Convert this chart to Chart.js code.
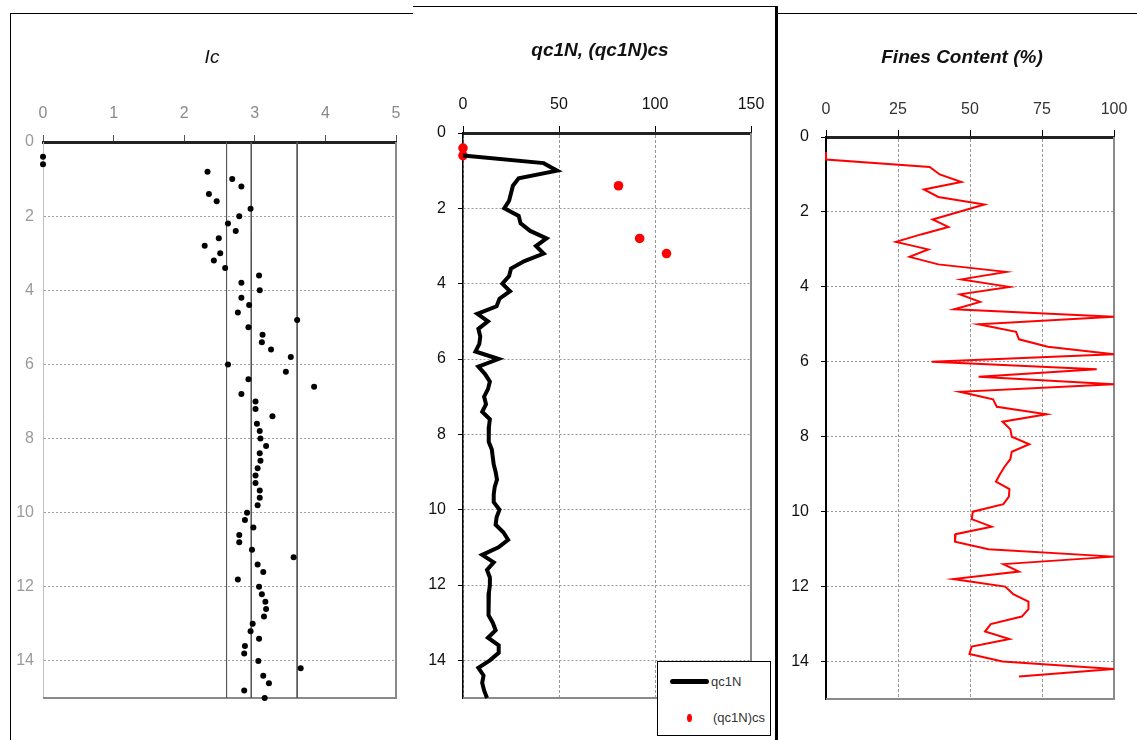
<!DOCTYPE html>
<html>
<head>
<meta charset="utf-8">
<title>Ic, qc1N, Fines Content</title>
<script src="https://cdn.jsdelivr.net/npm/chart.js@4.4.1/dist/chart.umd.min.js"></script>
<style>
  body { margin: 0; background: #fff; width: 1137px; height: 740px; overflow: hidden; position: relative; }
  canvas { position: absolute; }
  .rule { position: absolute; background: #000; }
  .title { position: absolute; width: 300px; text-align: center; font-size: 19px; line-height: 22px; color: #111; font-style: italic; }
  #legend { position: absolute; left: 657px; top: 661px; width: 112px; height: 73px; border: 1px solid #000; background: #fff;
    font-family: 'Liberation Sans Narrow', 'Liberation Sans', sans-serif; font-size: 13px; color: #333; }
  #legend .swatchLine { position: absolute; left: 12px; top: 17px; width: 39px; height: 5px; border-radius: 3px; background: #000; }
  #legend .swatchDot { position: absolute; left: 29px; top: 52px; width: 5px; height: 8px; border-radius: 50%; background: #f00; }
  #legend .txt { position: absolute; line-height: 14px; }
</style>
</head>
<body>

<canvas id="icChart" width="400" height="726" style="left:11px;top:14px"></canvas>
<canvas id="qcChart" width="372" height="733" style="left:414px;top:7px"></canvas>
<canvas id="fcChart" width="366" height="726" style="left:779px;top:14px"></canvas>

<div class="rule" style="left:10px;top:13px;width:403px;height:1px"></div>
<div class="rule" style="left:10px;top:13px;width:1px;height:727px"></div>
<div class="rule" style="left:413px;top:6px;width:363px;height:1px"></div>
<div class="rule" style="left:775px;top:6px;width:3px;height:734px"></div>
<div class="rule" style="left:778px;top:13px;width:359px;height:1px"></div>

<div class="title" style="left:62px;top:46px;font-family:'Liberation Sans Narrow','Liberation Sans',sans-serif">Ic</div>
<div class="title" style="left:450px;top:39px;font-family:'Liberation Sans',Arial,sans-serif;font-weight:bold">qc1N, (qc1N)cs</div>
<div class="title" style="left:812px;top:46px;font-family:'Liberation Sans',Arial,sans-serif;font-weight:bold">Fines Content (%)</div>

<div id="legend">
  <div class="swatchLine"></div><div class="txt" style="left:53px;top:13px">qc1N</div>
  <div class="swatchDot"></div><div class="txt" style="left:55px;top:49px">(qc1N)cs</div>
</div>

<script>
// Ic
const icDepth = [0.4, 0.6, 0.8, 1.0, 1.2, 1.4, 1.6, 1.8, 2.0, 2.2,
  2.4, 2.6, 2.8, 3.0, 3.2, 3.4, 3.6, 3.8, 4.0, 4.2,
  4.4, 4.6, 4.8, 5.0, 5.2, 5.4, 5.6, 5.8, 6.0, 6.2,
  6.4, 6.6, 6.8, 7.0, 7.2, 7.4, 7.6, 7.8, 8.0, 8.2,
  8.4, 8.6, 8.8, 9.0, 9.2, 9.4, 9.6, 9.8, 10.0, 10.2,
  10.4, 10.6, 10.8, 11.0, 11.2, 11.4, 11.6, 11.8, 12.0, 12.2,
  12.4, 12.6, 12.8, 13.0, 13.2, 13.4, 13.6, 13.8, 14.0, 14.2,
  14.4, 14.6, 14.8, 15.0];
const icValues = [0, 0, 2.33, 2.68, 2.81, 2.35, 2.46, 2.94, 2.78, 2.62,
  2.73, 2.49, 2.29, 2.51, 2.42, 2.58, 3.06, 2.81, 3.07, 2.81,
  2.92, 2.76, 3.60, 2.91, 3.11, 3.10, 3.23, 3.51, 2.62, 3.44,
  2.91, 3.84, 2.81, 3.01, 3.01, 3.25, 3.03, 3.07, 3.08, 3.16,
  3.07, 3.08, 3.04, 3.01, 3.01, 3.07, 3.07, 3.04, 2.89, 2.86,
  2.98, 2.78, 2.78, 2.96, 3.55, 3.04, 3.12, 2.76, 3.06, 3.10,
  3.15, 3.16, 3.13, 2.97, 2.94, 3.06, 2.86, 2.85, 3.05, 3.65,
  3.12, 3.20, 2.85, 3.14];
const icLimits = [2.6, 2.95, 3.6];
const icTicks = [0, 1, 2, 3, 4, 5];

// qc1N and (qc1N)cs
const qcDepth = [0.6, 0.8, 1.0, 1.2, 1.4, 1.6, 1.8, 2.0, 2.2,
  2.4, 2.6, 2.8, 3.0, 3.2, 3.4, 3.6, 3.8, 4.0, 4.2,
  4.4, 4.6, 4.8, 5.0, 5.2, 5.4, 5.6, 5.8, 6.0, 6.2,
  6.4, 6.6, 6.8, 7.0, 7.2, 7.4, 7.6, 7.8, 8.0, 8.2,
  8.4, 8.6, 8.8, 9.0, 9.2, 9.4, 9.6, 9.8, 10.0, 10.2,
  10.4, 10.6, 10.8, 11.0, 11.2, 11.4, 11.6, 11.8, 12.0, 12.2,
  12.4, 12.6, 12.8, 13.0, 13.2, 13.4, 13.6, 13.8, 14.0, 14.2,
  14.4, 14.6, 14.8, 15.0];
const qc1N = [0, 42, 49, 29, 26, 25, 24, 21.5, 29,
  30, 35, 43.5, 38, 42, 32, 25, 24, 20.5, 24.5,
  19, 17.5, 7.5, 13, 8, 9, 8.5, 6.5, 18.5, 8,
  11.5, 14, 13, 11, 12, 10, 14, 13.5, 13.3, 13.5,
  15, 15.5, 16, 17, 17.7, 16.5, 16, 16, 19, 17.5,
  17, 21, 23.5, 18.5, 10, 16, 12.5, 14, 14, 13.5,
  13.3, 13.3, 13.3, 15.5, 17, 13, 18.6, 18.6, 14, 8,
  10.7, 10, 11, 12.5];
const csDepth = [0.4, 0.6, 1.4, 2.8, 3.2];
const qc1Ncs = [0, 0, 81, 92, 106];
const qcTicks = [0, 50, 100, 150];

// Fines content
const fcDepth = [0.4, 0.6, 0.8, 1.0, 1.2, 1.4, 1.6, 1.8, 2.0, 2.2,
  2.4, 2.6, 2.8, 3.0, 3.2, 3.4, 3.6, 3.8, 4.0, 4.2,
  4.4, 4.6, 4.8, 5.0, 5.2, 5.4, 5.6, 5.8, 6.0, 6.2,
  6.4, 6.6, 6.8, 7.0, 7.2, 7.4, 7.6, 7.8, 8.0, 8.2,
  8.4, 8.6, 8.8, 9.0, 9.2, 9.4, 9.6, 9.8, 10.0, 10.2,
  10.4, 10.6, 10.8, 11.0, 11.2, 11.4, 11.6, 11.8, 12.0, 12.2,
  12.4, 12.6, 12.8, 13.0, 13.2, 13.4, 13.6, 13.8, 14.0, 14.2,
  14.4];
const finesContent = [0, 0, 36, 39.5, 47, 34, 39, 55, 46, 37,
  42.5, 33, 24.3, 35.5, 29, 39, 62.5, 47, 63.7, 46.5,
  53.5, 44.5, 100, 53, 66, 67, 77, 100, 36.7, 94,
  53, 100, 46.5, 58, 59.3, 76.6, 61.3, 64, 64.5, 70.6,
  64.5, 64, 62, 60.4, 59, 63.7, 63.5, 61.6, 51, 50.6,
  57.5, 45, 44.8, 56.4, 100, 61.6, 67, 44.2, 62.2, 65,
  70.3, 70.3, 68, 57.2, 55.2, 63.7, 50.6, 49.8, 61.3, 100,
  67];
const fcTicks = [0, 25, 50, 75, 100];

const depthTicks = [0, 2, 4, 6, 8, 10, 12, 14];

const narrow = "'Liberation Sans Narrow', 'Arial Narrow', 'Liberation Sans', sans-serif";
const arial = "'Liberation Sans', Arial, sans-serif";

const frame = {
  id: 'frame',
  beforeDatasetsDraw(chart) {
    const ctx = chart.ctx;
    const a = chart.chartArea;
    ctx.save();
    ctx.strokeStyle = '#8a8a8a';
    ctx.lineWidth = 2;
    ctx.beginPath();
    ctx.moveTo(a.right, a.top);
    ctx.lineTo(a.right, a.bottom);
    ctx.lineTo(a.left, a.bottom);
    ctx.stroke();
    ctx.restore();
  }
};

function pairs(xs, ys) {
  return ys.map((y, i) => ({ x: xs[i], y: y }));
}

function xScale(ticks, opts) {
  return {
    type: 'linear',
    position: 'top',
    min: ticks[0],
    max: ticks[ticks.length - 1],
    afterBuildTicks: (s) => { s.ticks = ticks.map(v => ({ value: v })); },
    afterFit: (s) => { s.height = 50; s.paddingLeft = 0; s.paddingRight = 0; },
    border: { color: '#222', width: 3, dash: opts.dash },
    grid: opts.grid,
    ticks: { padding: opts.pad, color: opts.color, font: opts.font }
  };
}

function yScale(width, opts) {
  return {
    type: 'linear',
    reverse: true,
    min: 0,
    max: 15,
    afterBuildTicks: (s) => { s.ticks = depthTicks.map(v => ({ value: v })); },
    afterFit: (s) => { s.width = width; s.paddingTop = 0; s.paddingBottom = 0; },
    border: { color: opts.borderColor, width: opts.borderWidth, dash: [2, 2] },
    grid: opts.grid,
    ticks: { padding: opts.pad, color: opts.color, font: opts.font }
  };
}

Chart.defaults.animation = false;

// Ic chart
let icSets = [{
  data: pairs(icValues, icDepth),
  pointRadius: 3,
  pointBackgroundColor: '#000',
  pointBorderWidth: 0,
  clip: false
}];
icLimits.forEach((v) => {
  icSets.push({
    data: [{ x: v, y: 0 }, { x: v, y: 15 }],
    showLine: true,
    borderColor: '#555',
    borderWidth: 1,
    pointRadius: 0
  });
});

new Chart(document.getElementById('icChart'), {
  type: 'scatter',
  data: { datasets: icSets },
  options: {
    responsive: false,
    devicePixelRatio: 1,
    layout: { padding: { left: 0, right: 15, top: 78, bottom: 42 } },
    plugins: { legend: { display: false }, tooltip: { enabled: false } },
    scales: {
      x: xScale(icTicks, {
        grid: { drawOnChartArea: false, tickLength: 7, tickColor: '#555' },
        pad: 12, color: '#8a8a8a', font: { family: narrow, size: 16 }
      }),
      y: yScale(32, {
        borderColor: '#c0c0c0', borderWidth: 1,
        grid: { color: '#a0a0a0', drawTicks: false },
        pad: 9, color: '#9a9a9a', font: { family: narrow, size: 16 }
      })
    }
  },
  plugins: [frame]
});

// qc1N chart
new Chart(document.getElementById('qcChart'), {
  type: 'scatter',
  data: {
    datasets: [{
      label: 'qc1N',
      data: pairs(qc1N, qcDepth),
      showLine: true,
      borderColor: '#000',
      borderWidth: 4,
      pointRadius: 0,
      clip: false
    }, {
      label: '(qc1N)cs',
      data: pairs(qc1Ncs, csDepth),
      pointRadius: 4.8,
      pointBackgroundColor: '#ff0000',
      pointBorderWidth: 0,
      clip: false
    }]
  },
  options: {
    responsive: false,
    devicePixelRatio: 1,
    layout: { padding: { left: 0, right: 35, top: 76, bottom: 42 } },
    plugins: { legend: { display: false }, tooltip: { enabled: false } },
    scales: {
      x: xScale(qcTicks, {
        dash: [3, 2],
        grid: { color: '#999', tickLength: 7, tickColor: '#000' },
        pad: 12, color: '#111', font: { family: arial, size: 16 }
      }),
      y: yScale(49, {
        borderColor: '#000', borderWidth: 1.5,
        grid: { color: '#999', tickLength: 5, tickColor: '#000' },
        pad: 12, color: '#111', font: { family: arial, size: 16 }
      })
    }
  },
  plugins: [frame]
});

// Fines content chart
new Chart(document.getElementById('fcChart'), {
  type: 'scatter',
  data: {
    datasets: [{
      label: 'Fines Content',
      data: pairs(finesContent, fcDepth),
      showLine: true,
      borderColor: '#ff0000',
      borderWidth: 2,
      pointRadius: 0,
      clip: false
    }]
  },
  options: {
    responsive: false,
    devicePixelRatio: 1,
    layout: { padding: { left: 0, right: 31, top: 73, bottom: 41 } },
    plugins: { legend: { display: false }, tooltip: { enabled: false } },
    scales: {
      x: xScale(fcTicks, {
        dash: [3, 2],
        grid: { color: '#999', tickLength: 7, tickColor: '#000' },
        pad: 11, color: '#333', font: { family: narrow, size: 16 }
      }),
      y: yScale(47, {
        borderColor: '#000', borderWidth: 2,
        grid: { color: '#999', tickLength: 5, tickColor: '#000' },
        pad: 12, color: '#111', font: { family: arial, size: 16 }
      })
    }
  },
  plugins: [frame]
});
</script>
</body>
</html>
